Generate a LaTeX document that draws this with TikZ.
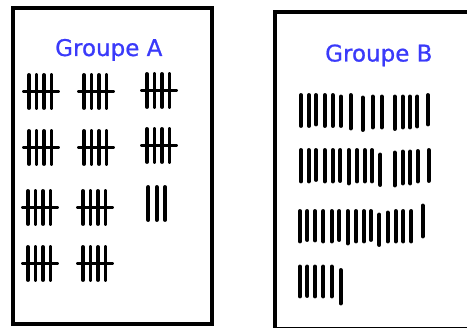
\documentclass[tikz,border=0pt]{standalone}
\usepackage{fontspec}
\newfontfamily\titlefont[FakeBold=0.8]{DejaVu Sans}
\definecolor{titleblue}{RGB}{58,58,250}
\begin{document}
\begin{tikzpicture}[
x=1pt,y=-1pt,
frame/.style={draw=black,line width=4pt},
title/.style={text=titleblue,font={\titlefont\fontsize{23pt}{25pt}\selectfont},inner sep=0pt,anchor=base west},
stroke/.style={line width=3.9pt,line cap=round},
fivebar/.pic={
    \foreach \dx in {0,7.5,15,22.5}
        \draw[stroke] (\dx,2) -- (\dx,35);
    \draw[stroke] (-5,18.5) -- (29,18.5);
}
]
\useasboundingbox (0,0) rectangle (467,328);
\clip (0,0) rectangle (467,328);
% the two sheets
\draw[frame] (13,8) rectangle (212,324.5);
\draw[frame] (275,12) rectangle (520,329.5);
\node[title] (titleA) at (55,56) {Groupe A};
\node[title] (titleB) at (325,61.5) {Groupe B};
% groupe A: bundles of five
\foreach \x/\y in {29/73,84/73,147/72,29/129,84/129,147/127,28/189,83/189,28/245,83/245}
    \pic at (\x,\y) {fivebar};
\foreach \x in {148.3,156.7,165}
    \draw[stroke] (\x,187) -- (\x,220);
% groupe B: single strokes, row by row
\foreach \x/\t/\b in {301/95/126,309/95/126,316/95/124.5,324.7/95/126,332.7/95/126,
    341/96.5/126,350.7/95/128.5,362.7/97.5/130,372.7/96.5/127.5,381.7/96.5/127.5,
    394.7/96.5/129,402.7/96.5/127.5,410/96.5/127.5,417.3/96.5/126.5,428/95/124.5}
    \draw[stroke] (\x,\t) -- (\x,\b);
\foreach \x/\t/\b in {301/150/181.5,308.7/150/181.5,316/150/180,324.7/150/181.5,
    332.7/150/181.5,340.3/150/181,348.7/150/183.5,357/150/181.5,364.7/150/181.5,
    372/150/181.5,380.3/154.5/185,394.7/152.5/185.5,402.7/151.5/183.5,
    410.3/151.5/183.5,417.7/151/181.5,428.7/150/181}
    \draw[stroke] (\x,\t) -- (\x,\b);
\foreach \x/\t/\b in {300/211/241.5,307.3/211/240,315/211/240.5,323.3/211/241.5,
    331.7/211/241.5,339.3/211/240,347.7/211/243.5,356/211/241.5,364/211/241.5,
    371/211/240,379.3/214.5/245,387.7/212.5/241.5,395.7/211/241.5,403.3/211/241.5,
    411.3/211/241.5,422.7/205.5/236.5}
    \draw[stroke] (\x,\t) -- (\x,\b);
\foreach \x/\t/\b in {300/266.5/296.5,307.3/266.5/296,315/266.5/296.5,
    323.3/266.5/296.5,331.7/266.5/296.5,340.7/270/303.5}
    \draw[stroke] (\x,\t) -- (\x,\b);
\end{tikzpicture}
\end{document}
